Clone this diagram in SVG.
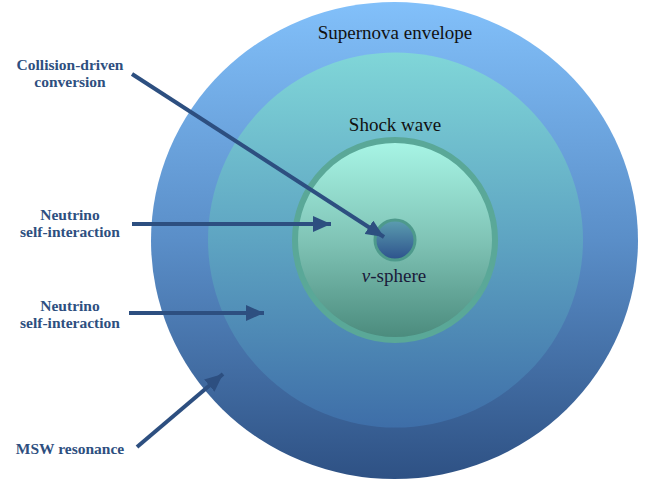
<svg xmlns="http://www.w3.org/2000/svg" width="650" height="488" viewBox="0 0 650 488">
<defs>
<linearGradient id="gOuter" x1="0" y1="0" x2="0" y2="1">
<stop offset="0" stop-color="#82c0fa"/>
<stop offset="0.5" stop-color="#5a8ec8"/>
<stop offset="1" stop-color="#2e5184"/>
</linearGradient>
<linearGradient id="gMid" x1="0" y1="0" x2="0" y2="1">
<stop offset="0" stop-color="#80d6d8"/>
<stop offset="0.5" stop-color="#5ea4c2"/>
<stop offset="1" stop-color="#3e6ea8"/>
</linearGradient>
<linearGradient id="gShock" x1="0" y1="0" x2="0" y2="1">
<stop offset="0" stop-color="#a8f6e6"/>
<stop offset="0.5" stop-color="#80c4b6"/>
<stop offset="1" stop-color="#4a8a7c"/>
</linearGradient>
<linearGradient id="gCore" x1="0" y1="0" x2="0" y2="1">
<stop offset="0" stop-color="#5c9eb0"/>
<stop offset="1" stop-color="#2d528c"/>
</linearGradient>
<marker id="ah" markerUnits="userSpaceOnUse" markerWidth="20" markerHeight="16" refX="18" refY="8" orient="auto">
<path d="M0,0 L18,8 L0,16 Z" fill="#2d4f80"/>
</marker>
</defs>
<style>
.lbl{font-family:"Liberation Serif","Times New Roman",serif;font-weight:bold;font-size:15.5px;fill:#2e4f7f;text-anchor:middle}
.ttl{font-family:"Liberation Serif","Times New Roman",serif;font-size:19px;fill:#111;text-anchor:middle}
.arr{stroke:#2d4f80;stroke-width:4;fill:none;marker-end:url(#ah)}
</style>
<g id="envelope">
<ellipse cx="394.5" cy="240.5" rx="243.5" ry="238.5" fill="url(#gOuter)"/>
<text class="ttl" x="395" y="39">Supernova envelope</text>
</g>
<g id="shock-region">
<circle cx="395.5" cy="240" r="187.5" fill="url(#gMid)"/>
<text class="ttl" x="395" y="131">Shock wave</text>
</g>
<g id="shock-wave">
<circle cx="395" cy="240" r="100" fill="url(#gShock)" stroke="#5aa898" stroke-width="6"/>
</g>
<g id="nu-sphere">
<circle cx="395" cy="240" r="20" fill="url(#gCore)" stroke="#4e9a8c" stroke-width="3"/>
<text class="ttl" x="394" y="282" style="fill:#1a1a3a"><tspan font-style="italic">ν</tspan>-sphere</text>
</g>
<g id="label-collision">
<text class="lbl" x="70" y="70">Collision-driven</text>
<text class="lbl" x="70" y="87">conversion</text>
</g>
<g id="label-self1">
<text class="lbl" x="70" y="220">Neutrino</text>
<text class="lbl" x="70" y="237">self-interaction</text>
</g>
<g id="label-self2">
<text class="lbl" x="70" y="311">Neutrino</text>
<text class="lbl" x="70" y="328">self-interaction</text>
</g>
<g id="label-msw">
<text class="lbl" x="70" y="454">MSW resonance</text>
</g>
<g id="connectors">
<line class="arr" x1="132" y1="74" x2="384" y2="237"/>
<line class="arr" x1="132" y1="224" x2="331" y2="224"/>
<line class="arr" x1="129" y1="313" x2="264" y2="313"/>
<line class="arr" x1="137" y1="447" x2="223" y2="374"/>
</g>
</svg>
